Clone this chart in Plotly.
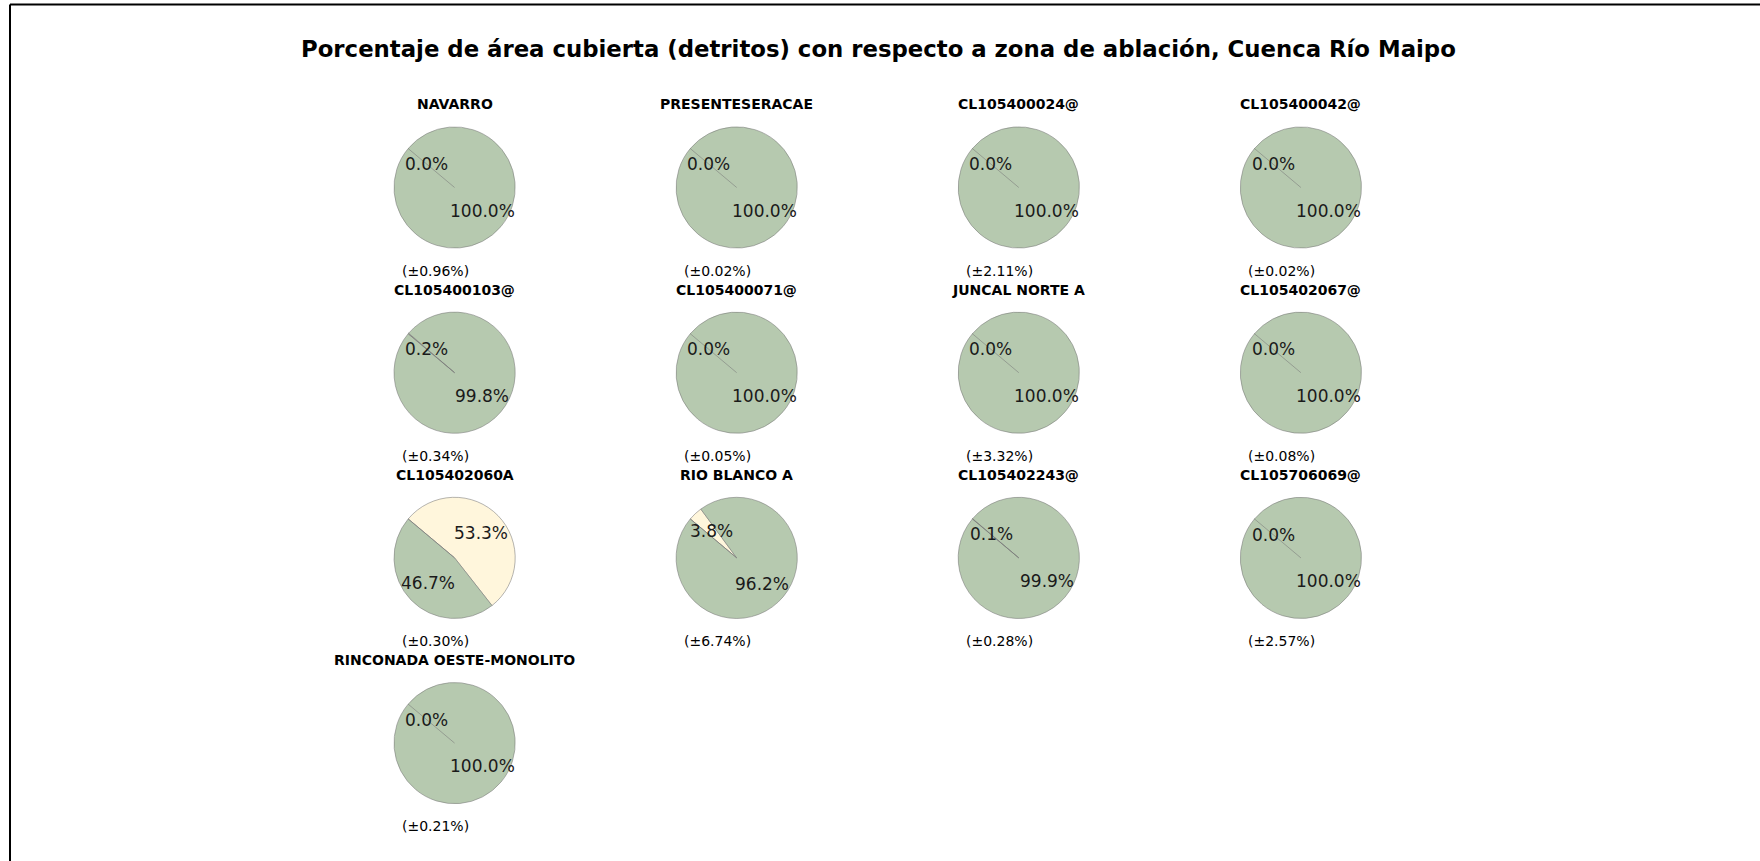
import math
import plotly.graph_objects as go

# Glaciers of the Maipo basin and their share of debris-covered area in the ablation zone
glaciers = [
    "NAVARRO", "PRESENTESERACAE", "CL105400024@", "CL105400042@",
    "CL105400103@", "CL105400071@", "JUNCAL NORTE A", "CL105402067@",
    "CL105402060A", "RIO BLANCO A", "CL105402243@", "CL105706069@",
    "RINCONADA OESTE-MONOLITO",
]
debris_pct = [0.0, 0.0, 0.0, 0.0, 0.2, 0.0, 0.0, 0.0, 53.3, 3.8, 0.1, 0.0, 0.0]
clean_pct = [100.0, 100.0, 100.0, 100.0, 99.8, 100.0, 100.0, 100.0, 46.7, 96.2, 99.9, 100.0, 100.0]
uncertainty = [0.96, 0.02, 2.11, 0.02, 0.34, 0.05, 3.32, 0.08, 0.30, 6.74, 0.28, 2.57, 0.21]

# Figure geometry (pixels)
W, H = 1760, 861
NCOLS = 4
COL0, COLSTEP = 454.6, 282.1
ROW0, ROWSTEP = 187.5, 185.2
R = 60.6
START_DEG = 140.0          # first wedge starts here (ccw from +x), drawn clockwise
DEBRIS_COLOR = "#fff6dc"
CLEAN_COLOR = "#b6c9af"
EDGE_COLOR = "rgba(120,120,120,0.55)"
TEXT_COLOR = "#1a1a1a"
FONT = "DejaVu Sans"


def px(x):
    return x / W


def py(y):
    return 1 - y / H


fig = go.Figure()
annotations = []
shapes = []

for i, name in enumerate(glaciers):
    cx = COL0 + (i % NCOLS) * COLSTEP
    cy = ROW0 + (i // NCOLS) * ROWSTEP
    vals = [debris_pct[i], clean_pct[i]]

    fig.add_trace(go.Pie(
        values=vals,
        labels=["Detritos", "Limpio"],
        sort=False,
        direction="clockwise",
        rotation=90 - START_DEG,
        marker=dict(colors=[DEBRIS_COLOR, CLEAN_COLOR],
                    line=dict(color=EDGE_COLOR, width=1)),
        textinfo="none",
        hoverinfo="label+percent",
        showlegend=False,
        domain=dict(x=[px(cx - R), px(cx + R)], y=[py(cy + R), py(cy - R)]),
    ))

    # radial edge where the debris wedge begins (visible even at 0 %)
    a0 = math.radians(START_DEG)
    shapes.append(dict(
        type="line", xref="paper", yref="paper",
        x0=px(cx), y0=py(cy),
        x1=px(cx + R * math.cos(a0)), y1=py(cy - R * math.sin(a0)),
        line=dict(color=EDGE_COLOR, width=1),
    ))

    # percentage labels at 0.6 R on each wedge's mid angle
    total = sum(vals)
    ang = START_DEG
    for v in vals:
        sweep = 360.0 * v / total
        mid = math.radians(ang - sweep / 2)
        annotations.append(dict(
            x=px(cx + 0.6 * R * math.cos(mid)), y=py(cy - 0.6 * R * math.sin(mid)),
            xref="paper", yref="paper", showarrow=False,
            text=f"{v:.1f}%", xanchor="center", yanchor="middle",
            font=dict(family=FONT, size=17, color=TEXT_COLOR),
        ))
        ang -= sweep

    # glacier name
    annotations.append(dict(
        x=px(cx), y=py(cy - 83.1), xref="paper", yref="paper", showarrow=False,
        text=f"<b>{name}</b>", xanchor="center", yanchor="middle",
        font=dict(family=FONT, size=14, color="black"),
    ))
    # uncertainty
    annotations.append(dict(
        x=px(cx - 55), y=py(cy + 83), xref="paper", yref="paper", showarrow=False,
        text=f"(±{uncertainty[i]:.2f}%)", xanchor="left", yanchor="middle",
        font=dict(family=FONT, size=14, color="black"),
    ))

annotations.append(dict(
    x=px(878), y=py(49), xref="paper", yref="paper", showarrow=False,
    text="<b>Porcentaje de área cubierta (detritos) con respecto a zona de ablación, Cuenca Río Maipo</b>",
    xanchor="center", yanchor="middle",
    font=dict(family=FONT, size=22.8, color="black"),
))

# frame lines
shapes.append(dict(type="line", xref="paper", yref="paper",
                   x0=px(10), y0=py(4.5), x1=px(10), y1=0,
                   line=dict(color="black", width=2)))
shapes.append(dict(type="line", xref="paper", yref="paper",
                   x0=px(10), y0=py(4.5), x1=1, y1=py(4.5),
                   line=dict(color="black", width=2)))

fig.update_layout(
    width=W, height=H,
    margin=dict(l=0, r=0, t=0, b=0),
    paper_bgcolor="white", plot_bgcolor="white",
    annotations=annotations, shapes=shapes,
    font=dict(family=FONT),
)

fig.write_html("out.html")
